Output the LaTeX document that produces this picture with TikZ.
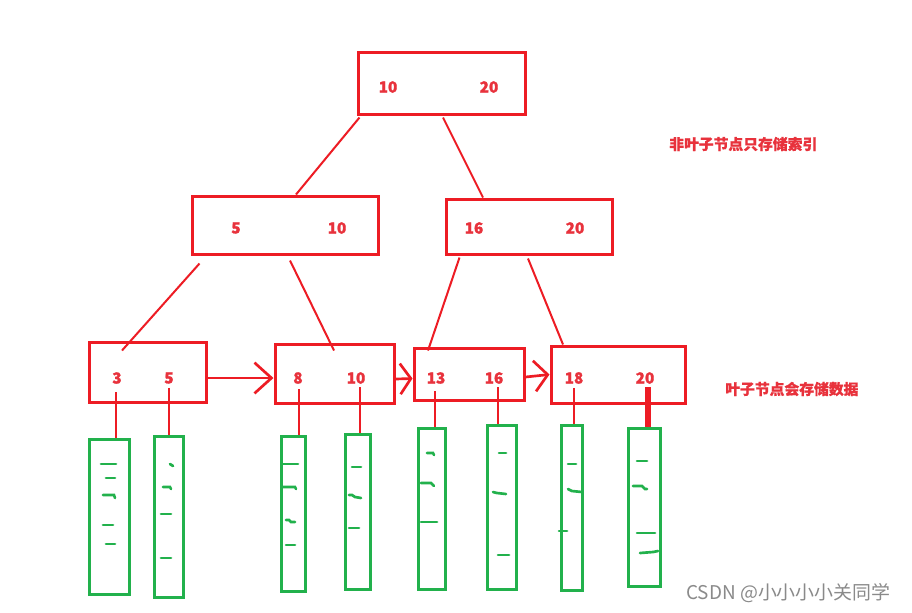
\documentclass[tikz,border=0pt]{standalone}
\usepackage{fontspec}
\newfontfamily\cjk{Noto Sans CJK SC}
\usetikzlibrary{arrows.meta}
\definecolor{pred}{HTML}{ED1C24}
\definecolor{tred}{HTML}{E8323C}
\definecolor{pgreen}{HTML}{22B14C}
\definecolor{wgray}{HTML}{8A8A8A}
\tikzset{
  keybox/.style={draw=pred, line width=2.25pt, inner sep=0pt},
  leafbox/.style={draw=pgreen, line width=2.25pt, inner sep=0pt},
  keytext/.style={text=tred, font=\cjk\bfseries\addfontfeature{FakeBold=1.2}\fontsize{11.5}{13}\selectfont, inner sep=0pt},
  note/.style={text=tred, font=\cjk\bfseries\addfontfeature{FakeBold=0.8}\fontsize{11.1}{13}\selectfont, inner sep=0pt, anchor=west},
  link/.style={draw=pred, line width=1.5pt},
  ptr/.style={draw=pred, line width=2pt},
  nextarrow/.style={draw=pred, line width=2pt, -{Straight Barb[length=#1, width=23pt, line width=2pt]}},
  datamark/.style={draw=pgreen, line width=2pt, line cap=round}
}
\begin{document}
\begin{tikzpicture}[x=0.75pt,y=-0.75pt]
\path[fill=white,use as bounding box] (0,0) rectangle (912,612);
% key boxes
\node[keybox, minimum width={167*0.75pt}, minimum height={62*0.75pt}] (root) at (441.5,83) {};
\node[keybox, minimum width={186*0.75pt}, minimum height={58*0.75pt}] (ml) at (285,225) {};
\node[keybox, minimum width={166*0.75pt}, minimum height={55*0.75pt}] (mr) at (529,226.5) {};
\node[keybox, minimum width={117*0.75pt}, minimum height={60*0.75pt}] (l1) at (147.5,372) {};
\node[keybox, minimum width={119*0.75pt}, minimum height={59*0.75pt}] (l2) at (334.5,373.5) {};
\node[keybox, minimum width={110*0.75pt}, minimum height={52*0.75pt}] (l3) at (469,374) {};
\node[keybox, minimum width={134*0.75pt}, minimum height={57*0.75pt}] (l4) at (618,374.5) {};
% keys
\node[keytext] (r10) at (388,87) {10};
\node[keytext] (r20) at (489,87) {20};
\node[keytext] (m5) at (236,228) {5};
\node[keytext] (m10) at (337,228) {10};
\node[keytext] (m16) at (474,228) {16};
\node[keytext] (m20) at (575,228) {20};
\node[keytext] (k3) at (117,378) {3};
\node[keytext] (k5) at (169,378) {5};
\node[keytext] (k8) at (298,378) {8};
\node[keytext] (k10) at (356,378) {10};
\node[keytext] (k13) at (436,378) {13};
\node[keytext] (k16) at (494,378) {16};
\node[keytext] (k18) at (574,378) {18};
\node[keytext] (k20) at (645,378) {20};
% tree links
\draw[link] ([shift={(3,2)}]root.south west) -- ([shift={(11,0)}]ml.north);
\draw[link] ([shift={(1.5,2)}]root.south) -- ([shift={(-46,0)}]mr.north);
\draw[link] ([shift={(9,8)}]ml.south west) -- ([shift={(-25.5,10)}]l1.north);
\draw[link] ([shift={(5,5)}]ml.south) -- ([shift={(-0.5,8)}]l2.north);
\draw[link] ([shift={(15,2)}]mr.south west) -- ([shift={(-41,4)}]l3.north);
\draw[link] ([shift={(-1,3)}]mr.south) -- ([shift={(-55,0)}]l4.north);
% leaf chain arrows
\draw[nextarrow=12.75pt] ([shift={(0,6)}]l1.east) -- ([shift={(0,4.5)}]l2.west);
\draw[nextarrow=8pt] ([shift={(0,5.5)}]l2.east) -- ([shift={(0,4.5)}]l3.west);
\draw[nextarrow=10pt] ([shift={(0,3)}]l3.east) -- ([shift={(0,0)}]l4.west);
% data boxes
\node[leafbox, minimum width={40*0.75pt}, minimum height={155*0.75pt}] (g1) at (109,516.5) {};
\node[leafbox, minimum width={29*0.75pt}, minimum height={161*0.75pt}] (g2) at (169,516.5) {};
\node[leafbox, minimum width={24*0.75pt}, minimum height={155*0.75pt}] (g3) at (293,513.5) {};
\node[leafbox, minimum width={25*0.75pt}, minimum height={155*0.75pt}] (g4) at (357.5,511.5) {};
\node[leafbox, minimum width={27*0.75pt}, minimum height={161*0.75pt}] (g5) at (431.5,508.5) {};
\node[leafbox, minimum width={29*0.75pt}, minimum height={164*0.75pt}] (g6) at (502,507) {};
\node[leafbox, minimum width={21*0.75pt}, minimum height={165*0.75pt}] (g7) at (571.5,507.5) {};
\node[leafbox, minimum width={32*0.75pt}, minimum height={158*0.75pt}] (g8) at (644.5,507) {};
% pointers
\draw[ptr] ([shift={(-1,8)}]k3.south) -- ([xshift=-0.75pt]k3.south |- g1.north);
\draw[ptr] ([shift={(0,4)}]k5.south) -- (k5.south |- g2.north);
\draw[ptr] ([shift={(1,5)}]k8.south) -- ([xshift=0.75pt]k8.south |- g3.north);
\draw[ptr] ([shift={(4,3)}]k10.south) -- ([xshift=3pt]k10.south |- g4.north);
\draw[ptr] ([shift={(-1,7)}]k13.south) -- ([xshift=-0.75pt]k13.south |- g5.north);
\draw[ptr] ([shift={(4,3)}]k16.south) -- ([xshift=3pt]k16.south |- g6.north);
\draw[ptr] ([shift={(0,4)}]k18.south) -- (k18.south |- g7.north);
\draw[ptr, line width=4.5pt] ([shift={(3,3)}]k20.south) -- ([xshift=2.25pt]k20.south |- g8.north);
% data marks
\draw[datamark] (101,464) -- (116,464);
\draw[datamark] (106,478) -- (115,478);
\draw[datamark] (103,495) -- (114,495) -- (115,498);
\draw[datamark] (103,525) -- (113,525);
\draw[datamark] (106,544) -- (115,544);
\draw[datamark] (170,464) -- (173,466);
\draw[datamark] (163,487) -- (170,487) -- (171,489);
\draw[datamark] (161,514) -- (171,514);
\draw[datamark] (161,558) -- (171,558);
\draw[datamark] (282,464) -- (298,464);
\draw[datamark] (282,487) -- (295,487) -- (296,489);
\draw[datamark] (286,520) -- (289,520) -- (291,522) -- (295,522);
\draw[datamark] (286,545) -- (295,545);
\draw[datamark] (352,467) -- (361,467);
\draw[datamark] (349,495) -- (352,495) -- (355,497) -- (361,498);
\draw[datamark] (349,528) -- (359,528);
\draw[datamark] (427,453) -- (433,453) -- (434,455);
\draw[datamark] (421,483) -- (431,483) -- (434,486);
\draw[datamark] (421,522) -- (437,522);
\draw[datamark] (499,453) -- (506,453);
\draw[datamark] (493,492) -- (497,493) -- (506,494);
\draw[datamark] (498,555) -- (509,555);
\draw[datamark] (568,464) -- (576,464);
\draw[datamark] (568,489) -- (572,491) -- (582,492);
\draw[datamark] (559,531) -- (567,531);
\draw[datamark] (637,461) -- (647,461);
\draw[datamark] (633,486) -- (642,486) -- (645,489) -- (647,489);
\draw[datamark] (637,533) -- (655,533);
\draw[datamark] (640,553) -- (653,552) -- (658,551);
% notes
\node[note] (n1) at (669,144) {非叶子节点只存储索引};
\node[note] (n2) at (725,389) {叶子节点会存储数据};
\node[text=wgray, font=\cjk\fontsize{14.2}{16}\selectfont, inner sep=0pt, anchor=west] (wm) at (686,593) {CSDN @小小小小关同学};
\end{tikzpicture}
\end{document}
